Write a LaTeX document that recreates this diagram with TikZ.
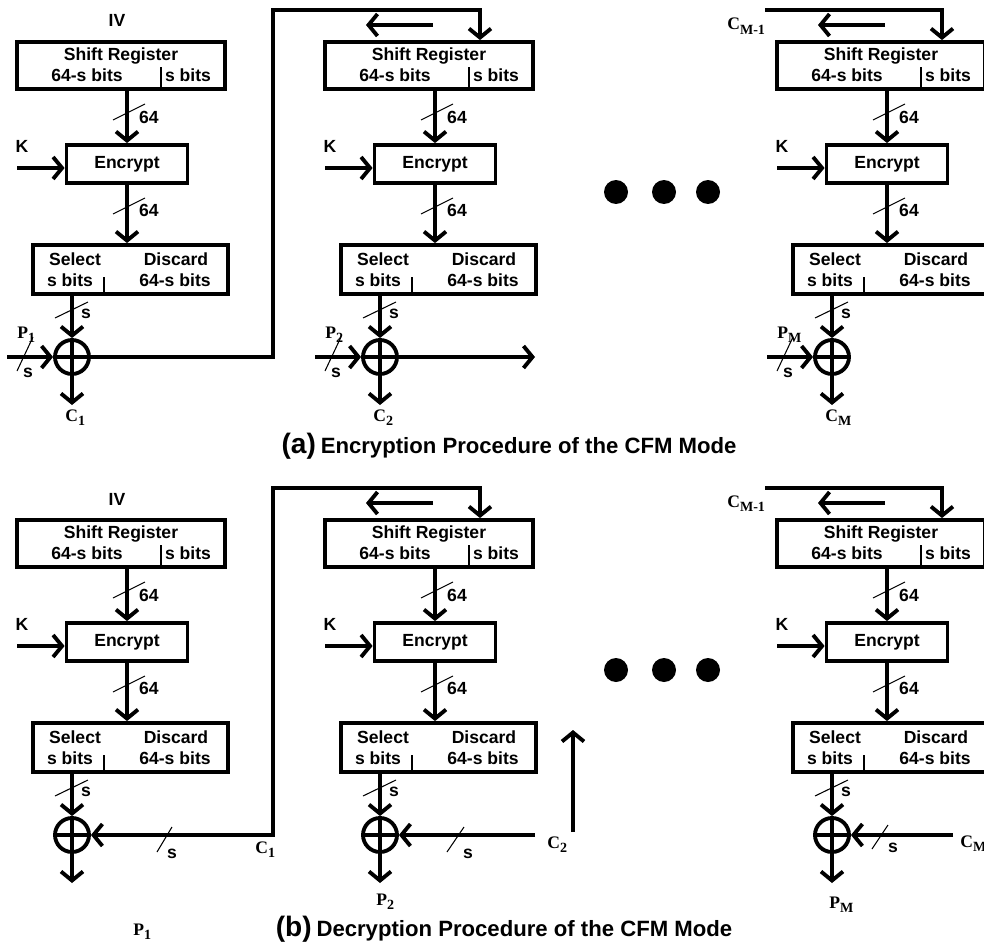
\documentclass[tikz,border=0pt]{standalone}
\usepackage{fontspec}
\setmainfont{Liberation Serif}
\setsansfont{Liberation Sans}
\usetikzlibrary{arrows.meta, positioning, calc}

\newcommand{\lowidx}[1]{\raisebox{-0.5ex}{\footnotesize #1}}

\begin{document}
\begin{tikzpicture}[
    x=0.02cm, y=-0.02cm,
    box/.style={draw, line width=2.2pt, inner sep=0pt, font=\sffamily\bfseries},
    txt/.style={font=\sffamily\bfseries, inner sep=0pt, anchor=base},
    lbl/.style={font=\rmfamily\bfseries, inner sep=0pt, anchor=base west},
    wire/.style={line width=2.2pt},
    arrow/.style={wire, -{Straight Barb[length=1.8mm, width=4.4mm]}},
    twoway/.style={wire, {Straight Barb[length=1.8mm, width=4.4mm]}-{Straight Barb[length=1.8mm, width=4.4mm]}},
    tick/.style={line width=0.6pt},
    xor/.style={circle, draw, line width=2.2pt, minimum size=0.68cm, inner sep=0pt,
        path picture={\draw[line width=2.2pt] (path picture bounding box.north) -- (path picture bounding box.south)
            (path picture bounding box.west) -- (path picture bounding box.east);}},
    dot/.style={circle, fill, minimum size=0.48cm, inner sep=0pt}
]
    \clip (0,0) rectangle (984,943);

    % One stage of the CFM chain, drawn six times
    \foreach \h/\oy in {a/0, b/478} {
      \foreach \p/\ox in {1/0, 2/308, 3/760} {
        \begin{scope}[shift={(\ox,\oy)}]
          % Shift register
          \node[box, minimum width=4.16cm, minimum height=0.94cm] (sr\h\p) at (121,65.5) {};
          \node[txt] (srname\h\p) at (121,60) {Shift Register};
          \node[txt] (srleft\h\p) at (87,81) {64-s bits};
          \node[txt] (srright\h\p) at (188,81) {s bits};
          \draw[tick] (161,67) -- (161,89);
          \ifnum\p=1
            \node[txt] (iv\h) at (117,27) {IV};
          \else
            \coordinate (shfrom\h\p) at (125,25);
            \coordinate (shto\h\p) at (58,25);
            \draw[arrow] (shfrom\h\p) -- (shto\h\p);
          \fi

          % Encrypt
          \node[box, minimum width=2.42cm, minimum height=0.76cm] (enc\h\p) at (127,164) {Encrypt};
          \node[txt] (k\h\p) at (22,152) {K};
          \coordinate (kin\h\p) at (17,168);
          \draw[arrow] (kin\h\p) -- (kin\h\p -| enc\h\p.west);

          % Select / discard
          \node[box, minimum width=3.9cm, minimum height=0.98cm] (sel\h\p) at (130.5,269.5) {};
          \node[txt] (selname\h\p) at (75,265) {Select};
          \node[txt] (selbits\h\p) at (70,286) {s bits};
          \node[txt] (disname\h\p) at (176,265) {Discard};
          \node[txt] (disbits\h\p) at (175,286) {64-s bits};
          \draw[tick] (104,277) -- (104,294);

          % XOR
          \node[xor] (xor\h\p) at (72,357) {};

          % Buses
          \draw[arrow] (sr\h\p.south -| enc\h\p.north) -- (enc\h\p.north);
          \draw[tick] (113,120) -- (145,104);
          \node[txt] (wa\h\p) at (149,123) {64};
          \draw[arrow] (enc\h\p.south) -- (enc\h\p.south |- sel\h\p.north);
          \draw[tick] (113,214) -- (145,198);
          \node[txt] (wb\h\p) at (149,216) {64};
          \draw[arrow] (sel\h\p.south -| xor\h\p.north) -- (xor\h\p.north);
          \draw[tick] (55,318) -- (88,302);
          \node[txt] (ws\h\p) at (86,318) {s};
        \end{scope}
      }
    }

    % Encryption inputs and outputs
    \foreach \p/\ox/\n in {1/0/1, 2/308/2, 3/760/M} {
      \begin{scope}[shift={(\ox,0)}]
        \coordinate (pin\p) at (7,357);
        \draw[arrow] (pin\p) -- (xora\p.west);
        \draw[tick] (17,371) -- (33,337);
        \node[lbl] (pa\p) at (17,338) {P\lowidx{\n}};
        \node[txt] (psa\p) at (28,377) {s};
        \coordinate (cout\p) at (72,405);
        \draw[arrow] (xora\p.south) -- (cout\p);
        \node[lbl] (ca\p) at (65,421) {C\lowidx{\n}};
      \end{scope}
    }
    \draw[arrow] (xora1.east) -| (273,10) -| ([xshift=1.02cm]sra2.north);
    \coordinate (outa2) at (535,357);
    \draw[arrow] (xora2.east) -- (outa2);
    \coordinate (cprev) at (765,10);
    \draw[arrow] (cprev) -| ([xshift=1.22cm]sra3.north);
    \node[lbl] (cprevlbl) at (727,30) {C\lowidx{M-1}};

    % Decryption inputs and outputs
    \draw[twoway] (xorb1.east) -| (273,488) -| ([xshift=1.02cm]srb2.north);
    \draw[tick] (157,852) -- (172,827);
    \node[txt] (csb1) at (172,858) {s};
    \node[lbl] (cb1) at (255,853) {C\lowidx{1}};
    \coordinate (poutb1) at (72,883);
    \draw[arrow] (xorb1.south) -- (poutb1);
    \node[lbl] (pb1) at (133,935) {P\lowidx{1}};

    \coordinate (cinb2) at (535,835);
    \draw[arrow] (cinb2) -- (xorb2.east);
    \draw[tick] (447,852) -- (464,827);
    \node[txt] (csb2) at (468,858) {s};
    \node[lbl] (cb2) at (547,848) {C\lowidx{2}};
    \coordinate (poutb2) at (380,883);
    \draw[arrow] (xorb2.south) -- (poutb2);
    \node[lbl] (pb2) at (376,905) {P\lowidx{2}};

    \coordinate (cinb3) at (953,835);
    \draw[arrow] (cinb3) -- (xorb3.east);
    \draw[tick] (872,849) -- (888,825);
    \node[txt] (csb3) at (893,852) {s};
    \node[lbl] (cb3) at (960,847) {C\lowidx{M}};
    \coordinate (poutb3) at (832,883);
    \draw[arrow] (xorb3.south) -- (poutb3);
    \node[lbl] (pb3) at (829,908) {P\lowidx{M}};

    \coordinate (cprevb) at (765,488);
    \draw[arrow] (cprevb) -| ([xshift=1.22cm]srb3.north);
    \node[lbl] (cprevlblb) at (727,507) {C\lowidx{M-1}};

    \coordinate (upfrom) at (573,832);
    \coordinate (upto) at (573,730);
    \draw[arrow] (upfrom) -- (upto);

    % Dots between the stages
    \foreach \i/\dx in {1/616, 2/664, 3/708} {
      \node[dot] (dota\i) at (\dx,192) {};
      \node[dot] (dotb\i) at (\dx,670) {};
    }

    % Captions
    \node[txt] (capa) at (509,453) {{\fontsize{16}{18}\selectfont (a)} {\fontsize{12.6}{15}\selectfont Encryption Procedure of the CFM Mode}};
    \node[txt] (capb) at (504,936) {{\fontsize{16}{18}\selectfont (b)} {\fontsize{12.6}{15}\selectfont Decryption Procedure of the CFM Mode}};
\end{tikzpicture}
\end{document}
